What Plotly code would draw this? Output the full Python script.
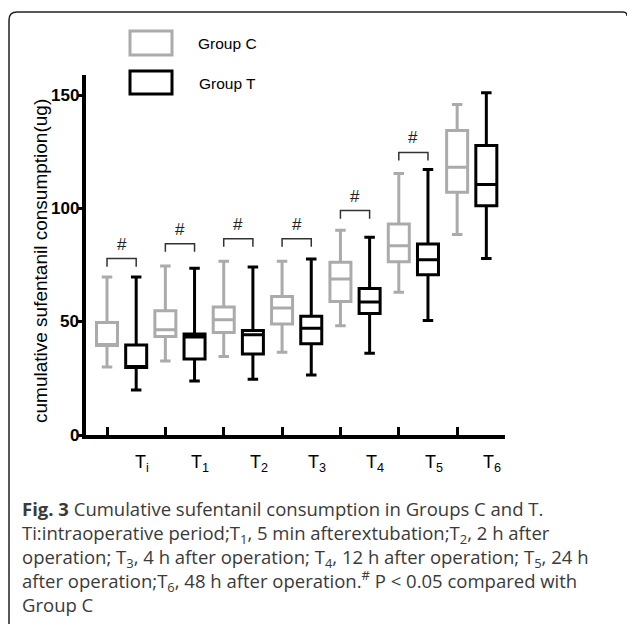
import plotly.graph_objects as go

# ---------------- data ----------------
categories = ["T<sub>i</sub>", "T<sub>1</sub>", "T<sub>2</sub>", "T<sub>3</sub>",
              "T<sub>4</sub>", "T<sub>5</sub>", "T<sub>6</sub>"]

c_lower = [30.0, 32.7, 34.7, 36.6, 48.2, 63.1, 88.5]
c_q1 = [39.5, 43.5, 45.3, 49.0, 59.0, 76.5, 107.2]
c_median = [39.5, 46.5, 50.9, 56.1, 68.9, 83.6, 118.3]
c_q3 = [49.7, 54.9, 56.5, 61.2, 76.3, 93.2, 134.5]
c_upper = [69.8, 74.6, 76.7, 76.7, 90.4, 115.5, 146.0]

t_lower = [19.9, 23.9, 24.6, 26.5, 36.1, 50.6, 78.0]
t_q1 = [29.8, 33.6, 35.8, 40.3, 53.7, 70.8, 101.3]
t_median = [29.8, 43.3, 44.3, 47.2, 58.7, 77.4, 110.6]
t_q3 = [39.8, 44.6, 46.2, 52.4, 64.7, 84.4, 127.9]
t_upper = [69.8, 73.7, 74.2, 77.7, 87.3, 117.3, 151.2]

significant = [True, True, True, True, True, True, False]
yticks = [0, 50, 100, 150]

# ---------------- layout constants ----------------
W, H = 627, 624
ML, MR, MT, MB = 86, 122, 75, 189
PW, PH = W - ML - MR, H - MT - MB
GRAY = "#ababab"
bracket_y = [77.9, 84.5, 86.7, 86.7, 99.1, 124.8, None]


def px(x):
    return (x - ML) / PW


def py(y):
    return (H - MB - y) / PH


n = len(categories)
xc = [k for k in range(n)]
xt = [k + 0.5 for k in range(n)]

fig = go.Figure()
fig.add_trace(go.Box(
    x=xc, q1=c_q1, median=c_median, q3=c_q3, lowerfence=c_lower, upperfence=c_upper,
    width=0.36, whiskerwidth=0.5, fillcolor="white",
    line=dict(color=GRAY, width=3), boxpoints=False, name="Group C", showlegend=False))
fig.add_trace(go.Box(
    x=xt, q1=t_q1, median=t_median, q3=t_q3, lowerfence=t_lower, upperfence=t_upper,
    width=0.36, whiskerwidth=0.5, fillcolor="white",
    line=dict(color="black", width=3), boxpoints=False, name="Group T", showlegend=False))

shapes = []
annotations = []

# significance brackets
for k in range(n):
    if significant[k]:
        yb = bracket_y[k]
        shapes.append(dict(type="path", xref="x", yref="y",
                           path=f"M {xc[k]},{yb-3.6} L {xc[k]},{yb} L {xt[k]},{yb} L {xt[k]},{yb-3.6}",
                           line=dict(color="#333333", width=1.5)))
        annotations.append(dict(x=(xc[k] + xt[k]) / 2, y=yb + 1.3, xref="x", yref="y",
                                text="#", showarrow=False, yanchor="bottom",
                                font=dict(family="Liberation Sans", size=17, color="#222")))

# category labels
for k, lab in enumerate(categories):
    annotations.append(dict(x=k + 0.6, y=py(463), xref="x", yref="paper",
                            text=lab, showarrow=False, xanchor="center", yanchor="middle",
                            font=dict(family="Liberation Sans", size=18, color="black")))

# y tick labels (placed close to the ticks, as in the reference)
for v in yticks:
    annotations.append(dict(x=px(81), y=v, xref="paper", yref="y", text=f"<b>{v}</b>",
                            showarrow=False, xanchor="right", yanchor="middle",
                            font=dict(family="Liberation Sans", size=17, color="black")))

# y-axis title
annotations.append(dict(x=px(40), y=py(261), xref="paper", yref="paper",
                        text="cumulative sufentanil consumption(ug)", textangle=-90,
                        showarrow=False, xanchor="center", yanchor="middle",
                        font=dict(family="Liberation Sans", size=19, color="black")))

# legend
shapes.append(dict(type="rect", xref="paper", yref="paper",
                   x0=px(130), x1=px(172), y0=py(31), y1=py(55),
                   line=dict(color=GRAY, width=3), fillcolor="white"))
shapes.append(dict(type="rect", xref="paper", yref="paper",
                   x0=px(130), x1=px(172), y0=py(71), y1=py(94),
                   line=dict(color="black", width=3), fillcolor="white"))
annotations.append(dict(x=px(196), y=py(43), xref="paper", yref="paper", text="Group C",
                        showarrow=False, xanchor="left", yanchor="middle",
                        font=dict(family="Liberation Sans", size=15.5, color="black")))
annotations.append(dict(x=px(197), y=py(83), xref="paper", yref="paper", text="Group T",
                        showarrow=False, xanchor="left", yanchor="middle",
                        font=dict(family="Liberation Sans", size=15.5, color="black")))

# frame (rounded top-left corner)
r = 8
x0f, y0f = 9, 12
fx = lambda v: px(v)
fy = lambda v: py(v)
shapes.append(dict(type="path", xref="paper", yref="paper",
                   path=(f"M {fx(x0f)},{fy(H + 5)} L {fx(x0f)},{fy(y0f + r)} "
                         f"Q {fx(x0f)},{fy(y0f)} {fx(x0f + r)},{fy(y0f)} "
                         f"L {fx(W - 4)},{fy(y0f)} Q {fx(W)},{fy(y0f)} {fx(W)},{fy(y0f + 4)}"),
                   line=dict(color="#222222", width=1.5)))

# caption (single multi-line text block)
cap_font = dict(family="Open Sans", size=18.5, color="#3a3a3a")
caption_lines = [
    "<b>Fig. 3</b> Cumulative sufentanil consumption in Groups C and T.",
    "Ti:intraoperative period;T<sub>1</sub>, 5 min afterextubation;T<sub>2</sub>, 2 h after",
    "operation; T<sub>3</sub>, 4 h after operation; T<sub>4</sub>, 12 h after operation; T<sub>5</sub>, 24 h",
    "after operation;T<sub>6</sub>, 48 h after operation.<sup>#</sup> P < 0.05 compared with",
    "Group C",
]
annotations.append(dict(x=px(20), y=py(494), xref="paper", yref="paper",
                        text="<br>".join(caption_lines), showarrow=False,
                        xanchor="left", yanchor="top", align="left", font=cap_font))

fig.update_layout(
    width=W, height=H,
    margin=dict(l=ML, r=MR, t=MT, b=MB, pad=0),
    paper_bgcolor="white", plot_bgcolor="white",
    boxmode="overlay",
    shapes=shapes, annotations=annotations,
    xaxis=dict(range=[-0.36, 6.82], showgrid=False, zeroline=False,
               showline=True, linecolor="black", linewidth=4,
               tickmode="array", tickvals=xc, ticktext=[""] * n,
               ticks="inside", ticklen=8, tickwidth=3, tickcolor="black",
               showticklabels=False, fixedrange=True),
    yaxis=dict(range=[0, 159], showgrid=False, zeroline=False,
               showline=True, linecolor="black", linewidth=4,
               tickmode="array", tickvals=yticks,
               ticks="outside", ticklen=5, tickwidth=3, tickcolor="black",
               showticklabels=False, fixedrange=True),
    font=dict(family="Liberation Sans"),
)

fig.write_html("out.html")
